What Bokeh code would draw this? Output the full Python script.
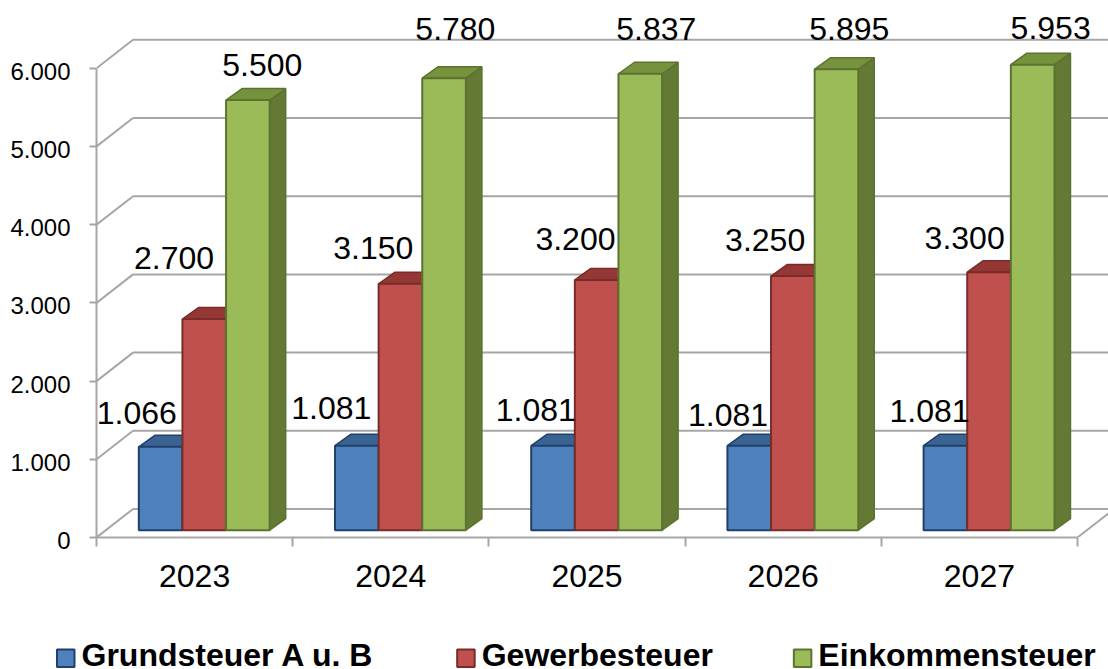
from bokeh.plotting import figure
from bokeh.models import Range1d, LinearAxis, FixedTicker, ColumnDataSource
from bokeh.core.properties import value
from bokeh.embed import file_html
from bokeh.resources import INLINE

years = ["2023", "2024", "2025", "2026", "2027"]
series_names = ["Grundsteuer A u. B", "Gewerbesteuer", "Einkommensteuer"]
grundsteuer = [1066, 1081, 1081, 1081, 1081]
gewerbesteuer = [2700, 3150, 3200, 3250, 3300]
einkommensteuer = [5500, 5780, 5837, 5895, 5953]
y_ticks = [0, 1000, 2000, 3000, 4000, 5000, 6000]
y_tick_labels = ["0", "1.000", "2.000", "3.000", "4.000", "5.000", "6.000"]

front = ["#4f81bd", "#c0504d", "#9bbb59"]
top_c = ["#3b6391", "#943735", "#76923c"]
side_c = ["#355a88", "#7f2f2d", "#647934"]
edge = ["#1f3f6d", "#772c2a", "#5b7330"]
GREY = "#a6a6a6"
FONT = "Liberation Sans"

PX_X = 196.1          # pixels per category
PX_Y = 0.0782         # pixels per unit of value
W, H = 1108, 669
FRAME_L = 96.5        # canvas x of the front axis
FRAME_B = 537.0       # canvas y of the zero line

x0 = 0.0
x1 = (W - FRAME_L) / PX_X
y1 = FRAME_B / PX_Y

p = figure(width=W, height=H, output_backend="svg", toolbar_location=None,
           x_range=Range1d(x0, x1), y_range=Range1d(0, y1),
           x_axis_type=None, y_axis_type=None,
           min_border_left=int(FRAME_L), min_border_right=0, min_border_top=0,
           min_border_bottom=H - int(FRAME_B), outline_line_color=None,
           background_fill_color="white", border_fill_color="white")
p.grid.visible = False

# Chart depth expressed in the data units of the two scales
wall_dx, wall_dy = 36.5 / PX_X, 28.5 / PX_Y
bar_dx, bar_dy = 16 / PX_X, 11.5 / PX_Y
base_dx, base_dy = 9.6 / PX_X, 7.3 / PX_Y
bar_w = 43.6 / PX_X
n = len(years)

# Walls
for t in y_ticks:
    p.line([x0, wall_dx], [t, t + wall_dy], line_color=GREY, line_width=2)
    p.line([wall_dx, x1 + 1], [t + wall_dy, t + wall_dy], line_color=GREY, line_width=2)
p.line([n, n + wall_dx], [0, wall_dy], line_color=GREY, line_width=2)

# Bars
all_series = [grundsteuer, gewerbesteuer, einkommensteuer]
gap = 32.7 / PX_X
for s, vals in enumerate(all_series):
    xl = [i + gap + base_dx + s * bar_w for i in range(n)]
    xr = [a + bar_w for a in xl]
    bot = [base_dy] * n
    tops = [base_dy + v for v in vals]
    if s == 2:
        p.patches([[b, b + bar_dx, b + bar_dx, b] for b in xr],
                  [[lo, lo + bar_dy, t + bar_dy, t] for lo, t in zip(bot, tops)],
                  fill_color=side_c[s], line_color=edge[s], line_width=1.5)
    p.patches([[a, a + bar_dx, b + bar_dx, b] for a, b in zip(xl, xr)],
              [[t, t + bar_dy, t + bar_dy, t] for t in tops],
              fill_color=top_c[s], line_color=edge[s], line_width=1.5)
    p.quad(left=xl, right=xr, bottom=bot, top=tops,
           fill_color=front[s], line_color=edge[s], line_width=2)

# Value labels, each nudged in pixels from its bar's top centre
label_dx = [[-23.9, -25.6, -17.2, -21.2, -15.9],
            [-30.2, -27.1, -21.2, -27.7, -24.4],
            [14.4, 11.3, 16.0, 12.9, 18.0]]
label_dy = [[-34.3, -37.9, -35.2, -30.2, -34.2],
            [-61.1, -35.9, -40.7, -36.0, -34.1],
            [-34.8, -48.9, -44.4, -39.9, -36.7]]
for s, vals in enumerate(all_series):
    src = ColumnDataSource(dict(
        x=[i + gap + base_dx + (s + 0.5) * bar_w for i in range(n)],
        y=[base_dy + v for v in vals],
        t=[f"{v:,}".replace(",", ".") for v in vals],
        dx=label_dx[s], dy=label_dy[s]))
    p.text("x", "y", text="t", source=src, x_offset="dx", y_offset="dy",
           text_align="center", text_baseline="middle",
           text_font=value(FONT), text_font_size="32px", text_color="black")

# Axes
ya = LinearAxis(ticker=FixedTicker(ticks=y_ticks), bounds=(0, 6000),
                axis_line_color=GREY, axis_line_width=2,
                major_tick_line_color=GREY, major_tick_line_width=2,
                major_tick_in=0, major_tick_out=7, minor_tick_line_color=None,
                major_label_text_font_size="0px", major_label_text_color=None)
p.add_layout(ya, "left")
p.text([0] * len(y_ticks), y_ticks, text=y_tick_labels, x_offset=-26, y_offset=3,
       text_align="right", text_baseline="middle",
       text_font=value(FONT), text_font_size="24px", text_color="black", level="overlay")

xa = LinearAxis(ticker=FixedTicker(ticks=list(range(n + 1))), bounds=(0, n),
                axis_line_color=GREY, axis_line_width=2,
                major_tick_line_color=GREY, major_tick_line_width=2,
                major_tick_in=0, major_tick_out=9, minor_tick_line_color=None,
                major_label_text_font_size="0px", major_label_text_color=None)
p.add_layout(xa, "below")

p.text([i + 0.5 for i in range(n)], [0] * n, text=years, y_offset=38,
       text_align="center", text_baseline="middle",
       text_font=value(FONT), text_font_size="32px", text_color="black", level="overlay")

# Legend, below the plot area
swatch_px = [57, 457, 793.5]
def sx(v): return (v - FRAME_L) / PX_X
def sy(v): return -(v - FRAME_B) / PX_Y
p.quad(left=[sx(v) for v in swatch_px], right=[sx(v + 17.5) for v in swatch_px],
       bottom=[sy(666.5)] * 3, top=[sy(649)] * 3,
       fill_color=front, line_color=edge, line_width=2, level="overlay")
p.text([sx(v + 24.5) for v in swatch_px], [0] * 3, text=series_names, y_offset=117.5,
       text_align="left", text_baseline="middle",
       text_font=value(FONT), text_font_style="bold", text_font_size="32px",
       text_color="black", level="overlay")

open("out.html", "w").write(file_html(p, INLINE))
